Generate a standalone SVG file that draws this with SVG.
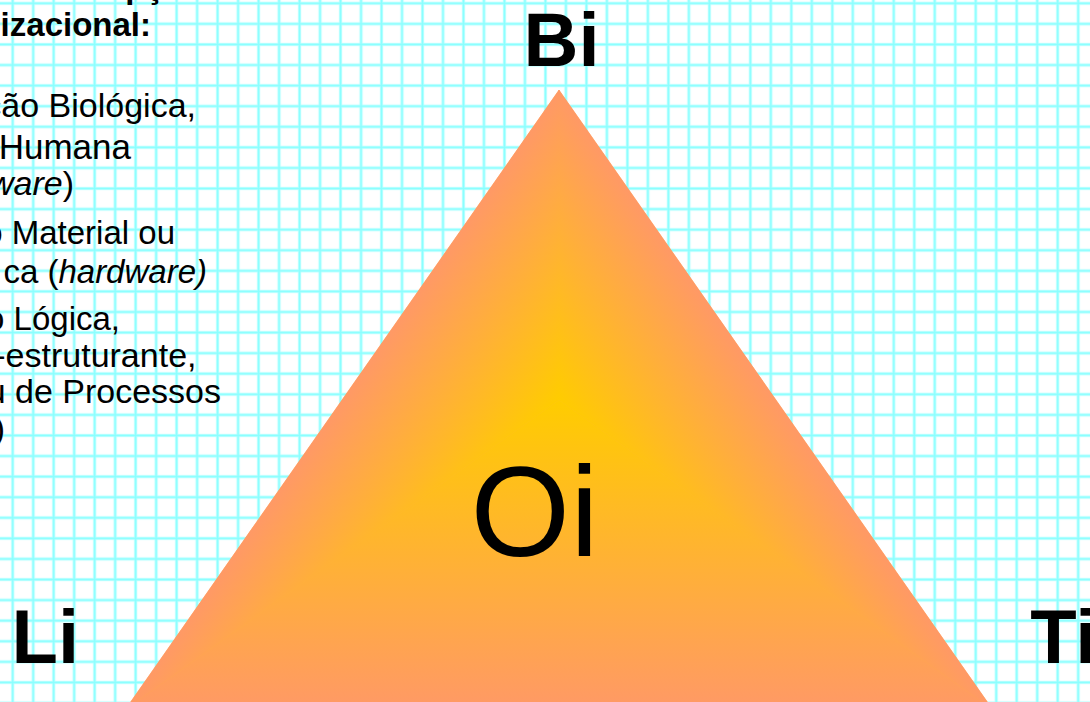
<svg xmlns="http://www.w3.org/2000/svg" width="1090" height="702" viewBox="0 0 1090 702">
<style>
.t{font-family:"Liberation Sans",Arial,sans-serif;fill:#000}
.b{font-size:34px}
.s{font-size:33px}
.l{font-size:35px}
.tb{font-size:33px;font-weight:bold}
.lab{font-size:76px;font-weight:bold}
.it{font-style:italic}
</style>
<defs>
<pattern id="grid" patternUnits="userSpaceOnUse" x="2.455" y="-6.99" width="20.49" height="20.58">
<rect x="8.6" y="0" width="3.3" height="20.58" fill="#C2FFFF"/>
<rect x="0" y="8.64" width="20.49" height="3.3" fill="#C2FFFF"/>
<rect x="9.45" y="0" width="1.6" height="20.58" fill="#8AFFFF"/>
<rect x="0" y="9.49" width="20.49" height="1.6" fill="#8AFFFF"/>
</pattern>
<linearGradient id="gL" gradientUnits="userSpaceOnUse" x1="413.4" y1="298" x2="559" y2="400">
<stop offset="0" stop-color="#FF9966"/><stop offset="1" stop-color="#FFCC00"/>
</linearGradient>
<linearGradient id="gR" gradientUnits="userSpaceOnUse" x1="704.6" y1="298" x2="559" y2="400">
<stop offset="0" stop-color="#FF9966"/><stop offset="1" stop-color="#FFCC00"/>
</linearGradient>
<linearGradient id="gB" gradientUnits="userSpaceOnUse" x1="559" y1="710" x2="559" y2="400">
<stop offset="0" stop-color="#FF9966"/><stop offset="1" stop-color="#FFCC00"/>
</linearGradient>
</defs>
<rect width="1090" height="702" fill="#FFFFFF"/>
<rect width="1090" height="702" fill="url(#grid)"/>

<g id="text-block" class="t">
<text class="tb" x="24.4" y="-2">Concepção</text>
<text class="tb" x="151" y="35.5" text-anchor="end">Organizacional:</text>
<text class="b" x="196" y="117" text-anchor="end">ção Biológica,</text>
<text class="l" x="131" y="159" text-anchor="end">Humana</text>
<text class="b" x="74" y="195" text-anchor="end"><tspan class="it">ware</tspan>)</text>
<text class="s" x="175" y="244" text-anchor="end">o Material ou</text>
<text class="s" x="207" y="283" text-anchor="end">ca (<tspan class="it">hardware)</tspan></text>
<text class="s" x="120" y="330" text-anchor="end">o Lógica,</text>
<text class="b" x="196.5" y="367" text-anchor="end">-estruturante,</text>
<text class="b" x="221" y="403" text-anchor="end">u de Processos</text>
<text class="b" x="5" y="440" text-anchor="end">)</text>
</g>

<g id="triangle-Oi">
<polygon points="559,90 125,710 993,710" fill="#FFB040"/>
<polygon points="559,90 125,710 559,400" fill="url(#gL)" stroke="url(#gL)" stroke-width="0.6"/>
<polygon points="559,90 993,710 559,400" fill="url(#gR)" stroke="url(#gR)" stroke-width="0.6"/>
<polygon points="125,710 993,710 559,400" fill="url(#gB)"/>
<text class="t" x="470.6" y="556" font-size="128">Oi</text>
</g>

<g id="node-Bi"><text class="t lab" x="523.5" y="66">Bi</text></g>
<g id="node-Li"><text class="t lab" x="11.5" y="663">Li</text></g>
<g id="node-Ti"><text class="t lab" x="1030.2" y="663">Ti</text></g>
<g id="connectors"/>
</svg>
